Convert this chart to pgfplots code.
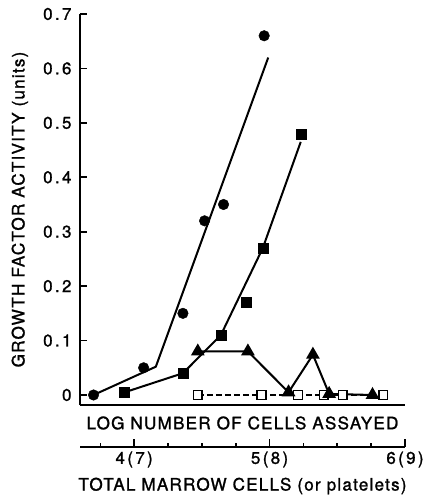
\documentclass[border=0pt]{standalone}
\usepackage{fontspec}
\setmainfont[LetterSpace=7, FakeBold=1.3]{TeX Gyre Heros}
\newfontfamily\tickfont[LetterSpace=14, FakeBold=1.3]{TeX Gyre Heros}
\usepackage{pgfplots}
\pgfplotsset{compat=1.18}

\begin{document}
\begin{tikzpicture}
\path[use as bounding box] (-80bp,-91bp) rectangle (347bp,405bp);

\begin{axis}[
    at={(0,0)}, anchor=south west,
    scale only axis,
    width=325bp, height=391bp,
    xmin=3.6, xmax=6.0,
    ymin=-0.0184, ymax=0.7,
    axis lines*=left,
    axis line style={line width=2bp},
    xtick=\empty,
    ytick={0,0.1,0.2,0.3,0.4,0.5,0.6,0.7},
    yticklabels={0,0.1,0.2,0.3,0.4,0.5,0.6,0.7},
    tick align=inside,
    major tick length=7bp,
    tick style={line width=1.6bp, black},
    yticklabel style={font=\tickfont\fontsize{17}{20}\selectfont, xshift=-5bp},
    xlabel={LOG NUMBER OF CELLS ASSAYED},
    xlabel style={at={(axis description cs:0.5,0)}, anchor=center, yshift=-18bp},
    ylabel={GROWTH FACTOR ACTIVITY (units)},
    ylabel style={at={(axis description cs:-0.185,0.5)}, anchor=center},
    label style={font=\fontsize{17.2}{20}\selectfont},
    clip=false
]

% fitted line, circles
\addplot[black, line width=2bp] coordinates {
    (3.70,0) (4.16,0.052) (4.99,0.62)
};
\addplot[only marks, mark=*, mark size=5.3bp, black] coordinates {
    (3.70,0) (4.07,0.05) (4.36,0.15) (4.52,0.32) (4.66,0.35) (4.96,0.66)
};

% filled squares
\addplot[black, line width=2bp] coordinates {
    (3.93,0.005) (4.36,0.04) (4.64,0.11) (4.95,0.27) (5.23,0.465)
};
\addplot[only marks, mark=square*, mark size=5bp, black] coordinates {
    (3.93,0.005) (4.36,0.04) (4.64,0.11) (4.83,0.17) (4.95,0.27) (5.23,0.48)
};

% open squares, dashed
\addplot[black, line width=1.6bp, dash pattern=on 6bp off 3bp,
    mark=square*, mark size=4.3bp,
    mark options={solid, fill=white, draw=black, line width=1.5bp}] coordinates {
    (4.47,0) (4.94,0) (5.21,0) (5.40,0) (5.54,0) (5.84,0)
};

% triangles
\addplot[black, line width=2bp, mark=triangle*, mark size=6bp,
    mark options={solid}] coordinates {
    (4.47,0.08) (4.84,0.08) (5.14,0.005) (5.32,0.074) (5.44,0.002) (5.76,0)
};

\end{axis}

\begin{axis}[
    at={(0,-42bp)}, anchor=south west,
    scale only axis,
    width=325bp, height=10bp,
    xmin=3.6, xmax=6.0,
    ymin=0, ymax=1,
    axis x line*=bottom,
    axis y line=none,
    axis line style={line width=2bp},
    xtick={4,5,6},
    xticklabels={4(7),5(8),6(9)},
    minor xtick={3.75,4.25,4.5,4.75,5.25,5.5,5.75},
    tick align=inside,
    major tick length=8bp,
    minor tick length=4bp,
    tick style={line width=1.6bp, black},
    xticklabel style={font=\tickfont\fontsize{17}{20}\selectfont, yshift=-1bp},
    xlabel={TOTAL MARROW CELLS (or platelets)},
    xlabel style={at={(axis description cs:0.5,0)}, anchor=center, yshift=-39bp,
        font=\fontsize{17.2}{20}\selectfont}
]
\addplot[draw=none] coordinates {(4,0.5)};
\end{axis}
\end{tikzpicture}
\end{document}
